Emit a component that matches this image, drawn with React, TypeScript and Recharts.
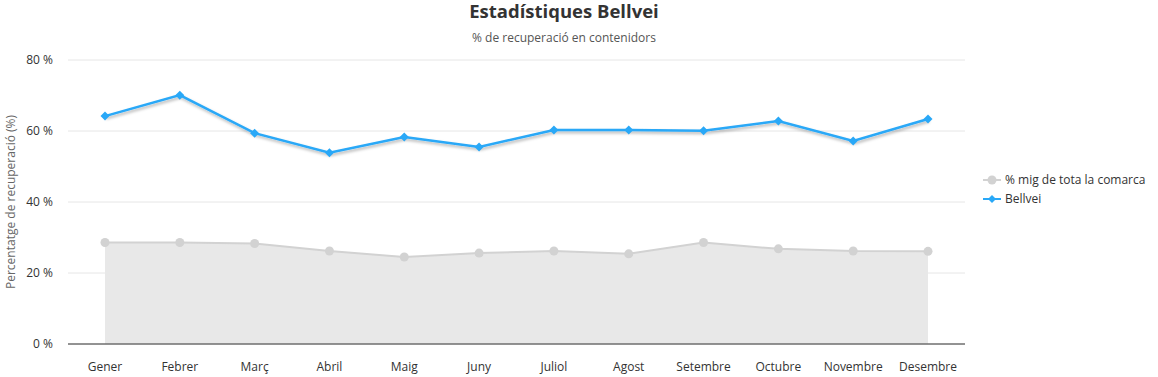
import {
  ComposedChart,
  Area,
  Line,
  XAxis,
  YAxis,
  CartesianGrid,
  Legend
} from "recharts"

const months = [
  "Gener", "Febrer", "Març", "Abril", "Maig", "Juny",
  "Juliol", "Agost", "Setembre", "Octubre", "Novembre", "Desembre"
]

const comarcaAvg = [28.6, 28.6, 28.3, 26.2, 24.5, 25.6, 26.2, 25.4, 28.6, 26.8, 26.2, 26.1]

const bellvei = [64.2, 70.1, 59.4, 53.9, 58.3, 55.5, 60.3, 60.3, 60.1, 62.8, 57.2, 63.4]

const yTicks = [0, 20, 40, 60, 80]

const FONT = "'Open Sans', 'Noto Sans', sans-serif"
const BLUE = "#29a8f7"
const GREY_LINE = "#d2d2d2"
const GREY_FILL = "#e8e8e8"

const data = months.map((m, i) => ({
  month: m,
  comarca: comarcaAvg[i],
  bellvei: bellvei[i]
}))

// diamond marker for the Bellvei line
const Diamond = (props: any) => {
  const { cx, cy } = props
  if (cx == null || cy == null) return null
  const s = 4.5
  return (
    <polygon
      points={`${cx},${cy - s} ${cx + s},${cy} ${cx},${cy + s} ${cx - s},${cy}`}
      fill={BLUE}
    />
  )
}

const LegendBox = () => (
  <div style={{ fontFamily: FONT, fontSize: 12, color: "#333", lineHeight: "19px" }}>
    <div style={{ display: "flex", alignItems: "center" }}>
      <svg width={18} height={12} style={{ marginRight: 4 }}>
        <line x1={0} y1={6} x2={18} y2={6} stroke={GREY_LINE} strokeWidth={2} />
        <circle cx={9} cy={6} r={4.5} fill={GREY_LINE} />
      </svg>
      % mig de tota la comarca
    </div>
    <div style={{ display: "flex", alignItems: "center" }}>
      <svg width={18} height={12} style={{ marginRight: 4 }}>
        <line x1={0} y1={6} x2={18} y2={6} stroke={BLUE} strokeWidth={2} />
        <polygon points="9,2 13,6 9,10 5,6" fill={BLUE} />
      </svg>
      Bellvei
    </div>
  </div>
)

export default function App() {
  return (
    <div style={{ position: "absolute", left: 0, top: 0, width: 1158, height: 377, background: "#fff" }}>

      <div
        style={{
          position: "absolute",
          left: 364,
          width: 400,
          top: -1,
          textAlign: "center",
          fontFamily: FONT,
          fontWeight: 700,
          fontSize: 18.5,
          color: "#333",
          lineHeight: "24px"
        }}
      >
        Estadístiques Bellvei
      </div>

      <div
        style={{
          position: "absolute",
          left: 364,
          width: 400,
          top: 30,
          textAlign: "center",
          fontFamily: FONT,
          fontSize: 12,
          color: "#555",
          lineHeight: "16px"
        }}
      >
        % de recuperació en contenidors
      </div>

      <ComposedChart
        width={1158}
        height={377}
        data={data}
        margin={{ top: 60, right: 193, bottom: 0, left: 0 }}
      >
        <defs>
          <filter id="lineShadow" x="-5%" y="-20%" width="110%" height="140%">
            <feDropShadow dx={1} dy={2} stdDeviation={1.5} floodColor="#000" floodOpacity={0.3} />
          </filter>
        </defs>

        <CartesianGrid vertical={false} stroke="#e6e6e6" />

        <XAxis
          dataKey="month"
          tickLine={false}
          axisLine={{ stroke: "#333", strokeWidth: 1 }}
          tickSize={0}
          tickMargin={18}
          height={33}
          interval={0}
          padding={{ left: 37, right: 37 }}
          tick={{ fill: "#333", fontSize: 12, fontFamily: FONT }}
        />

        <YAxis
          domain={[0, 80]}
          ticks={yTicks}
          width={68}
          axisLine={false}
          tickLine={false}
          tickSize={0}
          tickMargin={15}
          tickFormatter={(v) => `${v} %`}
          tick={{ fill: "#333", fontSize: 12, fontFamily: FONT }}
          label={{
            content: (p: any) => {
              const vb = p.viewBox
              const x = vb.x + 10
              const y = vb.y + vb.height / 2
              return (
                <text
                  x={x}
                  y={y}
                  transform={`rotate(-90 ${x} ${y})`}
                  textAnchor="middle"
                  dominantBaseline="central"
                  fill="#666"
                  fontSize={12}
                  fontFamily={FONT}
                >
                  Percentatge de recuperació (%)
                </text>
              )
            }
          }}
        />

        <Legend
          layout="vertical"
          align="center"
          verticalAlign="middle"
          content={<LegendBox />}
          wrapperStyle={{ left: 983, top: 170, width: 175 }}
        />

        <Area
          type="linear"
          dataKey="comarca"
          name="% mig de tota la comarca"
          stroke={GREY_LINE}
          strokeWidth={2}
          fill={GREY_FILL}
          fillOpacity={1}
          dot={{ r: 4.5, fill: GREY_LINE, stroke: "none" }}
          activeDot={false}
          isAnimationActive={false}
        />

        <Line
          type="linear"
          dataKey="bellvei"
          name="Bellvei"
          stroke={BLUE}
          strokeWidth={2.5}
          dot={<Diamond />}
          activeDot={false}
          filter="url(#lineShadow)"
          isAnimationActive={false}
        />

      </ComposedChart>

    </div>
  )
}
